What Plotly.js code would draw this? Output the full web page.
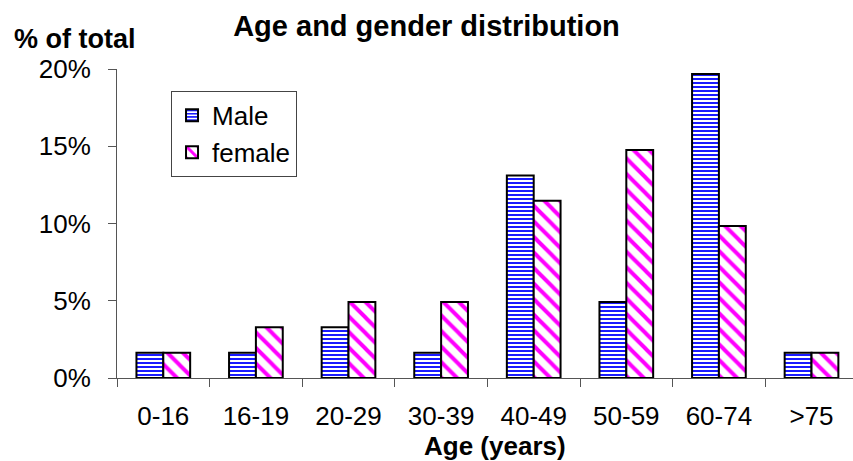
<!DOCTYPE html>
<html>
<head>
<meta charset="utf-8">
<script src="https://cdn.plot.ly/plotly-3.0.1.min.js"></script>
<style>
  html, body { margin: 0; padding: 0; background: #fff; overflow: hidden; }
  #chart { width: 853px; height: 461px; }
</style>
</head>
<body>
<div id="chart"></div>
<script>
// Age groups on the horizontal axis
const ageGroups = ['0-16', '16-19', '20-29', '30-39', '40-49', '50-59', '60-74', '>75'];
// Share of all patients (%) per age group
const malePct   = [1.64, 1.64, 3.28, 1.64, 13.11, 4.92, 19.67, 1.64];
const femalePct = [1.64, 3.28, 4.92, 4.92, 11.48, 14.75, 9.84, 1.64];
// Value-axis ticks
const yTickVals = [0, 5, 10, 15, 20];
const yTickText = ['0%', '5%', '10%', '15%', '20%'];

const FONT = 'Liberation Sans, Arial, Helvetica, sans-serif';
const AXIS_GREY = '#555555';

const traces = [
  {
    type: 'bar', name: 'Male', x: ageGroups, y: malePct,
    marker: {
      color: '#ffffff',
      line: { color: '#000000', width: 2 },
      pattern: { shape: '-', fgcolor: '#0000ff', bgcolor: '#ffffff', size: 4, solidity: 0.45 }
    },
    hoverinfo: 'x+y'
  },
  {
    type: 'bar', name: 'female', x: ageGroups, y: femalePct,
    marker: {
      color: '#ffffff',
      line: { color: '#000000', width: 2 },
      pattern: { shape: '\\', fgcolor: '#ff00ff', bgcolor: '#ffffff', size: 11, solidity: 0.36 }
    },
    hoverinfo: 'x+y'
  }
];

const layout = {
  width: 853, height: 461,
  margin: { l: 117, r: 0, t: 69, b: 82.5, pad: 0 },
  paper_bgcolor: '#ffffff', plot_bgcolor: '#ffffff',
  font: { family: FONT, size: 26, color: '#000000' },
  barmode: 'group', bargap: 0.42, bargroupgap: 0,
  title: {
    text: '<b>Age and gender distribution</b>',
    font: { family: FONT, size: 29, color: '#000000' },
    xref: 'container', x: 0.5, xanchor: 'center',
    yref: 'container', y: 0.944, yanchor: 'middle'
  },
  xaxis: {
    type: 'category',
    range: [-0.5, 7.448],
    showline: true, linecolor: AXIS_GREY, linewidth: 1,
    ticks: 'outside', tickson: 'boundaries', ticklen: 8, tickcolor: AXIS_GREY, tickwidth: 1,
    ticklabelstandoff: 15,
    showgrid: false, zeroline: false,
    tickfont: { family: FONT, size: 26, color: '#000000' }
  },
  yaxis: {
    range: [0, 20], fixedrange: true,
    tickmode: 'array', tickvals: yTickVals, ticktext: yTickText,
    showline: true, linecolor: AXIS_GREY, linewidth: 1,
    ticks: 'outside', ticklen: 8, tickcolor: AXIS_GREY, tickwidth: 1,
    ticklabelstandoff: 12,
    showgrid: false, zeroline: false,
    tickfont: { family: FONT, size: 26, color: '#000000' }
  },
  // dark gridlines for the inner ticks
  yaxis2: {
    overlaying: 'y', anchor: 'x', range: [0, 20],
    tickmode: 'array', tickvals: [5, 10, 15],
    showgrid: true, gridcolor: AXIS_GREY, gridwidth: 1,
    showticklabels: false, ticks: '', showline: false, zeroline: false
  },
  // faint line along the top of the plot
  yaxis3: {
    overlaying: 'y', anchor: 'x', range: [0, 20],
    tickmode: 'array', tickvals: [20],
    showgrid: true, gridcolor: '#e2e2e2', gridwidth: 1,
    showticklabels: false, ticks: '', showline: false, zeroline: false
  },
  legend: {
    x: 0.0734, xanchor: 'left', y: 0.929, yanchor: 'top',
    bgcolor: '#ffffff', bordercolor: '#444444', borderwidth: 1,
    font: { family: FONT, size: 26, color: '#000000' },
    traceorder: 'normal'
  },
  annotations: [
    {
      text: '<b>% of total</b>', showarrow: false,
      xref: 'paper', yref: 'paper', x: -0.1427, y: 1.097,
      xanchor: 'left', yanchor: 'middle',
      font: { family: FONT, size: 27, color: '#000000' }
    },
    {
      text: '<b>Age (years)</b>', showarrow: false,
      xref: 'paper', yref: 'paper', x: 0.513, y: -0.22,
      xanchor: 'center', yanchor: 'middle',
      font: { family: FONT, size: 26, color: '#000000' }
    }
  ],
  showlegend: true
};

Plotly.newPlot('chart', traces, layout, { displayModeBar: false, staticPlot: true });
</script>
</body>
</html>
